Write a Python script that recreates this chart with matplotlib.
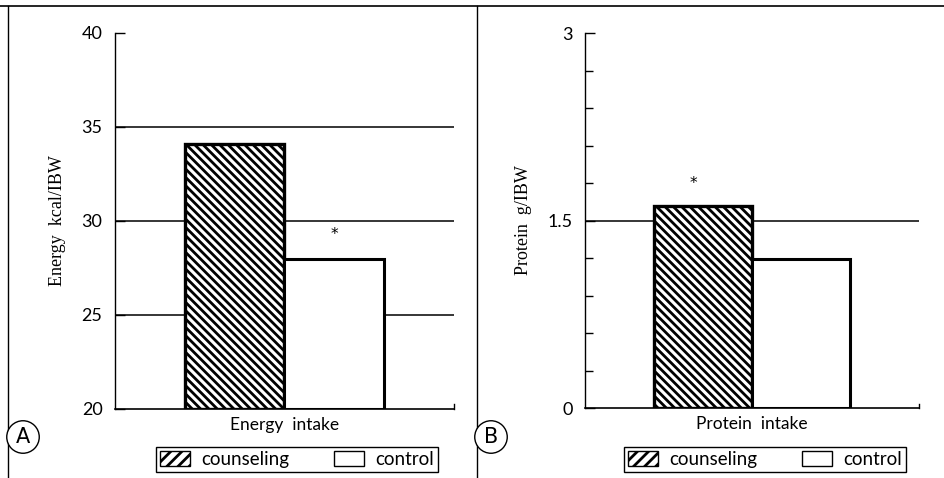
import matplotlib
matplotlib.use("Agg")
import matplotlib.pyplot as plt
from matplotlib.patches import Patch
from matplotlib.lines import Line2D
from matplotlib.ticker import MultipleLocator

# ---- data ----
groups = ["counseling", "control"]
energy_values = [34.1, 28.0]
protein_values = [1.62, 1.19]
energy_ticks = [20, 25, 30, 35, 40]
energy_grid = [25, 30, 35]
protein_ticks = [0, 1.5, 3]
protein_grid = [1.5]
energy_star = (1, 29.3)
protein_star = (-0.1, 1.8)

plt.rcParams['hatch.linewidth'] = 2.0
SANS = ['Lato', 'DejaVu Sans']
SERIF = ['Liberation Serif', 'DejaVu Serif']

fig = plt.figure(figsize=(9.45, 4.78), dpi=100)
fig.patch.set_facecolor('white')

axA = fig.add_axes([0.1217, 0.1444, 0.3587, 0.7866])
axB = fig.add_axes([0.619, 0.1464, 0.3534, 0.7845])

def style(ax, values, ylim, ticks, grid, ylabel, xlabel, star, lpad):
    x = list(range(len(values)))
    for g in grid:
        ax.axhline(g, color='black', lw=1.1, zorder=1)
    ax.bar(x[0], values[0] - ylim[0], bottom=ylim[0], width=1.0, facecolor='white',
           edgecolor='black', hatch='\\\\\\\\', linewidth=2.4, zorder=3)
    ax.bar(x[1], values[1] - ylim[0], bottom=ylim[0], width=1.0, facecolor='white',
           edgecolor='black', linewidth=2.2, zorder=3)
    ax.set_xlim(-1.2, 2.2)
    ax.set_ylim(*ylim)
    ax.set_yticks(ticks)
    ax.set_yticklabels([f"{t:g}" for t in ticks], family=SANS, fontsize=13)
    ax.set_xticks([])
    for s in ['top', 'right']:
        ax.spines[s].set_visible(False)
    ax.spines['left'].set_linewidth(1.0)
    ax.spines['bottom'].set_linewidth(1.2)
    ax.tick_params(axis='y', direction='in', length=7, width=1.0, pad=9)
    ax.set_ylabel(ylabel, family=SERIF, fontsize=13, labelpad=lpad)
    ax.set_xlabel(xlabel, family=SANS, fontsize=12.5, labelpad=6)
    ax.text(star[0], star[1], '*', ha='center', va='center', fontsize=11,
            family=['DejaVu Sans'], zorder=4)
    # right end tick on bottom axis
    ax.plot([1, 1], [0, 0.012], transform=ax.transAxes, color='black', lw=1,
            clip_on=False)

style(axA, energy_values, (20, 40), energy_ticks, energy_grid,
      'Energy  kcal/IBW', 'Energy  intake', energy_star, 11)
style(axB, protein_values, (0, 3), protein_ticks, protein_grid,
      'Protein  g/IBW', 'Protein  intake', protein_star, 11)
axB.yaxis.set_minor_locator(MultipleLocator(0.3))
axB.tick_params(axis='y', which='minor', direction='in', length=6, width=1.0)

handles = [Patch(facecolor='white', edgecolor='black', hatch='///', lw=1.0),
           Patch(facecolor='white', edgecolor='black', lw=1.0)]
for cx in [0.3143, 0.8093]:
    leg = fig.legend(handles, ['counseling', 'control'], ncol=2,
                     loc='center', bbox_to_anchor=(cx, 0.0387),
                     prop={'family': SANS, 'size': 13.5}, frameon=True,
                     fancybox=False, edgecolor='black', framealpha=1,
                     handlelength=1.6, handleheight=0.8, columnspacing=2.4,
                     handletextpad=0.6, borderpad=0.2, borderaxespad=0)
    leg.get_frame().set_linewidth(1.0)

for lbl, cx in [('A', 23 / 945), ('B', 491 / 945)]:
    fig.text(cx, 1 - 437 / 478, lbl, ha='center', va='center', fontsize=15,
             family=['DejaVu Sans'],
             bbox=dict(boxstyle='circle,pad=0.3', fc='white', ec='black', lw=1.0))

# figure frame lines
fig.add_artist(Line2D([0, 1], [1 - 6 / 478] * 2, color='black', lw=1.2))
fig.add_artist(Line2D([8 / 945] * 2, [0, 1 - 6 / 478], color='black', lw=1.0))
fig.add_artist(Line2D([477 / 945] * 2, [0, 1 - 6 / 478], color='black', lw=1.0))

fig.savefig('out.png', dpi=100)
